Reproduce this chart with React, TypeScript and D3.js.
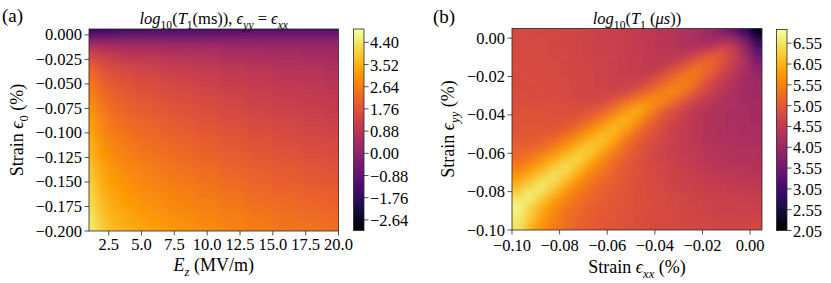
import * as d3 from "d3";

// ---- panel (a): log10(T1 in ms) over Ez and strain (eps_yy = eps_xx)
const ezA = [1, 2, 3, 4, 5, 6, 7, 8, 10, 12, 14, 16, 18, 20];
const strainA = [0.005, 0.0, -0.005, -0.01, -0.02, -0.03, -0.04, -0.05, -0.06, -0.07, -0.08, -0.09, -0.1,
  -0.11, -0.12, -0.13, -0.14, -0.15, -0.16, -0.17, -0.18, -0.19, -0.2];
const t1A = [
  [-1.9, -1.73, -1.65, -1.6, -1.56, -1.53, -1.51, -1.49, -1.45, -1.41, -1.37, -1.34, -1.32, -1.3],
  [-1.3, -1.1, -1.01, -0.95, -0.91, -0.87, -0.85, -0.82, -0.78, -0.73, -0.68, -0.65, -0.62, -0.6],
  [-0.2, -0.17, -0.16, -0.15, -0.14, -0.14, -0.14, -0.13, -0.13, -0.12, -0.11, -0.11, -0.1, -0.1],
  [0.6, 0.49, 0.43, 0.4, 0.38, 0.36, 0.34, 0.32, 0.3, 0.27, 0.25, 0.23, 0.21, 0.2],
  [1.4, 1.13, 1.0, 0.93, 0.87, 0.82, 0.78, 0.74, 0.69, 0.62, 0.56, 0.52, 0.48, 0.45],
  [2.0, 1.61, 1.42, 1.31, 1.23, 1.16, 1.1, 1.05, 0.97, 0.87, 0.79, 0.72, 0.66, 0.62],
  [2.35, 1.91, 1.69, 1.57, 1.47, 1.39, 1.33, 1.27, 1.17, 1.06, 0.97, 0.89, 0.83, 0.78],
  [2.6, 2.12, 1.89, 1.75, 1.65, 1.56, 1.5, 1.43, 1.33, 1.21, 1.1, 1.02, 0.95, 0.9],
  [2.8, 2.3, 2.04, 1.9, 1.79, 1.7, 1.63, 1.56, 1.45, 1.32, 1.22, 1.13, 1.05, 1.0],
  [3.0, 2.47, 2.2, 2.05, 1.94, 1.84, 1.77, 1.69, 1.58, 1.44, 1.33, 1.23, 1.16, 1.1],
  [3.15, 2.6, 2.33, 2.18, 2.06, 1.96, 1.88, 1.8, 1.69, 1.55, 1.43, 1.34, 1.26, 1.2],
  [3.3, 2.74, 2.46, 2.3, 2.18, 2.08, 2.0, 1.92, 1.8, 1.66, 1.54, 1.44, 1.36, 1.3],
  [3.42, 2.85, 2.57, 2.41, 2.29, 2.19, 2.11, 2.03, 1.91, 1.76, 1.64, 1.54, 1.46, 1.4],
  [3.55, 2.98, 2.69, 2.53, 2.4, 2.3, 2.22, 2.14, 2.01, 1.87, 1.75, 1.64, 1.56, 1.5],
  [3.68, 3.1, 2.81, 2.64, 2.52, 2.41, 2.33, 2.24, 2.12, 1.97, 1.85, 1.75, 1.66, 1.6],
  [3.8, 3.21, 2.92, 2.75, 2.62, 2.52, 2.44, 2.35, 2.23, 2.08, 1.95, 1.85, 1.76, 1.7],
  [3.92, 3.33, 3.03, 2.86, 2.73, 2.63, 2.54, 2.46, 2.33, 2.18, 2.05, 1.95, 1.86, 1.8],
  [4.03, 3.43, 3.14, 2.97, 2.84, 2.73, 2.65, 2.56, 2.43, 2.28, 2.16, 2.05, 1.96, 1.9],
  [4.14, 3.54, 3.24, 3.07, 2.94, 2.83, 2.75, 2.66, 2.54, 2.39, 2.26, 2.15, 2.06, 2.0],
  [4.25, 3.65, 3.35, 3.18, 3.05, 2.94, 2.85, 2.77, 2.64, 2.49, 2.36, 2.25, 2.16, 2.1],
  [4.36, 3.76, 3.45, 3.28, 3.15, 3.04, 2.96, 2.87, 2.74, 2.59, 2.46, 2.35, 2.26, 2.2],
  [4.47, 3.86, 3.55, 3.38, 3.24, 3.13, 3.05, 2.96, 2.83, 2.67, 2.54, 2.43, 2.35, 2.28],
  [4.58, 3.96, 3.65, 3.48, 3.34, 3.23, 3.14, 3.06, 2.92, 2.77, 2.64, 2.52, 2.44, 2.37],
];
const xTicksA = [2.5, 5, 7.5, 10, 12.5, 15, 17.5, 20];
const yTicksA = [0, -0.025, -0.05, -0.075, -0.1, -0.125, -0.15, -0.175, -0.2];
const cbTicksA = [4.4, 3.52, 2.64, 1.76, 0.88, 0, -0.88, -1.76, -2.64];

// ---- panel (b): log10(T1 in us) over eps_xx and eps_yy
const exxB = [-0.0975, -0.0925, -0.0875, -0.0825, -0.0775, -0.0725, -0.0675, -0.0625, -0.0575, -0.0525, -0.0475,
  -0.0425, -0.0375, -0.0325, -0.0275, -0.0225, -0.0175, -0.0125, -0.0075, -0.0025, 0.0025];
const eyyB = [0.0025, -0.0025, -0.0075, -0.0125, -0.0175, -0.0225, -0.0275, -0.0325, -0.0375, -0.0425, -0.0475,
  -0.0525, -0.0575, -0.0625, -0.0675, -0.0725, -0.0775, -0.0825, -0.0875, -0.0925, -0.0975];
const t1B = [
  [4.82, 4.81, 4.8, 4.78, 4.76, 4.73, 4.7, 4.67, 4.63, 4.59, 4.55, 4.5, 4.45, 4.4, 4.33, 4.25, 4.1, 3.85, 3.5, 2.9, 2.2],
  [4.83, 4.82, 4.81, 4.79, 4.77, 4.74, 4.71, 4.68, 4.64, 4.6, 4.56, 4.51, 4.46, 4.41, 4.34, 4.27, 4.2, 4.3, 4.45, 3.8, 2.9],
  [4.84, 4.83, 4.82, 4.8, 4.78, 4.75, 4.72, 4.69, 4.65, 4.61, 4.57, 4.52, 4.47, 4.42, 4.38, 4.55, 4.8, 5.0, 4.7, 4.2, 3.35],
  [4.85, 4.84, 4.83, 4.81, 4.79, 4.76, 4.73, 4.7, 4.66, 4.62, 4.58, 4.53, 4.48, 4.58, 4.85, 5.1, 5.3, 5.03, 4.65, 4.3, 3.75],
  [4.86, 4.85, 4.84, 4.82, 4.8, 4.77, 4.74, 4.71, 4.67, 4.63, 4.59, 4.55, 4.73, 5.0, 5.25, 5.45, 5.18, 4.82, 4.5, 4.25, 3.98],
  [4.87, 4.86, 4.85, 4.83, 4.81, 4.78, 4.75, 4.72, 4.68, 4.64, 4.65, 4.85, 5.1, 5.35, 5.57, 5.3, 4.93, 4.6, 4.37, 4.18, 4.08],
  [4.88, 4.87, 4.86, 4.84, 4.82, 4.79, 4.76, 4.73, 4.7, 4.75, 4.95, 5.2, 5.45, 5.67, 5.4, 5.03, 4.72, 4.48, 4.3, 4.17, 4.12],
  [4.89, 4.88, 4.87, 4.85, 4.83, 4.8, 4.78, 4.8, 4.97, 5.2, 5.45, 5.7, 5.65, 5.35, 4.97, 4.7, 4.5, 4.35, 4.25, 4.2, 4.17],
  [4.95, 4.95, 4.94, 4.93, 4.92, 4.92, 4.95, 5.1, 5.35, 5.7, 6.0, 5.65, 5.2, 4.9, 4.68, 4.5, 4.38, 4.3, 4.25, 4.21, 4.18],
  [4.97, 4.97, 4.96, 4.95, 4.95, 5.02, 5.22, 5.48, 5.8, 6.08, 5.75, 5.3, 5.0, 4.77, 4.6, 4.45, 4.35, 4.28, 4.24, 4.22, 4.2],
  [5.0, 5.0, 5.0, 5.0, 5.12, 5.32, 5.58, 5.88, 6.15, 5.85, 5.4, 5.08, 4.85, 4.68, 4.55, 4.45, 4.37, 4.3, 4.26, 4.24, 4.22],
  [5.05, 5.06, 5.1, 5.23, 5.43, 5.7, 5.98, 6.25, 5.93, 5.5, 5.17, 4.94, 4.77, 4.64, 4.53, 4.45, 4.38, 4.32, 4.28, 4.26, 4.25],
  [5.15, 5.2, 5.33, 5.53, 5.8, 6.07, 6.33, 6.02, 5.6, 5.27, 5.03, 4.86, 4.73, 4.62, 4.55, 4.48, 4.42, 4.36, 4.32, 4.3, 4.28],
  [5.3, 5.42, 5.62, 5.9, 6.17, 6.42, 6.1, 5.7, 5.37, 5.13, 4.96, 4.83, 4.72, 4.64, 4.58, 4.52, 4.46, 4.41, 4.37, 4.34, 4.32],
  [5.5, 5.72, 6.0, 6.27, 6.5, 6.18, 5.78, 5.47, 5.23, 5.06, 4.94, 4.85, 4.77, 4.7, 4.63, 4.57, 4.51, 4.46, 4.42, 4.39, 4.38],
  [5.8, 6.07, 6.33, 6.57, 6.25, 5.85, 5.53, 5.3, 5.13, 5.01, 4.92, 4.84, 4.78, 4.72, 4.66, 4.61, 4.56, 4.52, 4.48, 4.46, 4.45],
  [6.12, 6.4, 6.62, 6.3, 5.9, 5.58, 5.36, 5.2, 5.09, 5.0, 4.93, 4.87, 4.81, 4.76, 4.71, 4.66, 4.62, 4.58, 4.55, 4.53, 4.52],
  [6.45, 6.67, 6.35, 5.95, 5.63, 5.4, 5.25, 5.13, 5.05, 4.98, 4.93, 4.88, 4.83, 4.78, 4.74, 4.7, 4.67, 4.64, 4.62, 4.6, 4.6],
  [6.72, 6.4, 6.0, 5.68, 5.45, 5.28, 5.16, 5.08, 5.02, 4.97, 4.92, 4.88, 4.84, 4.8, 4.76, 4.73, 4.7, 4.68, 4.66, 4.65, 4.65],
  [6.65, 6.3, 5.88, 5.58, 5.37, 5.22, 5.12, 5.05, 5.0, 4.95, 4.91, 4.87, 4.84, 4.81, 4.78, 4.75, 4.73, 4.71, 4.7, 4.69, 4.7],
  [6.55, 6.1, 5.72, 5.48, 5.31, 5.19, 5.1, 5.03, 4.98, 4.94, 4.9, 4.87, 4.84, 4.82, 4.8, 4.78, 4.77, 4.76, 4.76, 4.76, 4.77],
];
const xTicksB = [-0.1, -0.08, -0.06, -0.04, -0.02, 0];
const yTicksB = [0, -0.02, -0.04, -0.06, -0.08, -0.1];
const cbTicksB = [6.55, 6.05, 5.55, 5.05, 4.55, 4.05, 3.55, 3.05, 2.55, 2.05];

const FONT = "'Liberation Serif', 'DejaVu Serif', serif";
const TICK = 16.5;
const LABEL = 18;
const TITLE = 16.5;
const minus = (s: string) => s.replace("-", "\u2212");

type Seg = { t: string; it?: boolean; sub?: boolean };

function Rich({ segs, x, y, size, anchor = "middle", transform }: {
  segs: Seg[]; x: number; y: number; size: number; anchor?: string; transform?: string;
}) {
  let down = false;
  const shift = size * 0.3;
  return (
    <text x={x} y={y} fontSize={size} textAnchor={anchor} fontFamily={FONT} fill="#000" transform={transform}>
      {segs.map((s, i) => {
        let dy = 0;
        if (s.sub && !down) { dy = shift; down = true; }
        else if (!s.sub && down) { dy = -shift; down = false; }
        return (
          <tspan key={i} dy={dy} fontStyle={s.it ? "italic" : "normal"} fontSize={s.sub ? size * 0.7 : size}>
            {s.t}
          </tspan>
        );
      })}
    </text>
  );
}

type Box = { x0: number; x1: number; y0: number; y1: number };

// pixel extents of each cell: half way to its neighbours, outer cells run past the frame
function bounds(pos: number[], lo: number, hi: number, pad: number) {
  return pos.map((p, i) => {
    const a = i === 0 ? lo - pad : (pos[i - 1] + p) / 2;
    const b = i === pos.length - 1 ? hi + pad : (p + pos[i + 1]) / 2;
    return [a, b];
  });
}

function Panel(props: {
  id: string; box: Box; xDom: [number, number]; yDom: [number, number];
  xs: number[]; ys: number[]; z: number[][]; cDom: [number, number];
  xTicks: number[]; yTicks: number[]; xFmt: (v: number) => string; yFmt: (v: number) => string;
  blur: string; cb: Box; cbTicks: number[]; cbFmt: (v: number) => string; xLabDy: number;
}) {
  const { id, box, xDom, yDom, xs, ys, z, cDom, xTicks, yTicks, xFmt, yFmt, blur, cb, cbTicks, cbFmt, xLabDy } = props;
  const x = d3.scaleLinear().domain(xDom).range([box.x0, box.x1]);
  const y = d3.scaleLinear().domain(yDom).range([box.y1, box.y0]);
  const color = d3.scaleSequential(d3.interpolateInferno).domain(cDom);
  const cy = d3.scaleLinear().domain(cDom).range([cb.y1, cb.y0]);
  const xb = bounds(xs.map(x), box.x0, box.x1, 25);
  const yb = bounds(ys.map(y), box.y0, box.y1, 25);
  const stops = d3.range(0, 1.0001, 0.025);
  return (
    <g>
      <defs>
        <clipPath id={`clip-${id}`}>
          <rect x={box.x0} y={box.y0} width={box.x1 - box.x0} height={box.y1 - box.y0} />
        </clipPath>
        <filter id={`blur-${id}`} filterUnits="userSpaceOnUse" x={box.x0 - 40} y={box.y0 - 40}
          width={box.x1 - box.x0 + 80} height={box.y1 - box.y0 + 80}>
          <feGaussianBlur stdDeviation={blur} />
        </filter>
        <linearGradient id={`grad-${id}`} x1="0" y1="1" x2="0" y2="0">
          {stops.map((t) => (
            <stop key={t} offset={t} stopColor={d3.interpolateInferno(t)} />
          ))}
        </linearGradient>
      </defs>
      <g clipPath={`url(#clip-${id})`}>
        <g filter={`url(#blur-${id})`}>
          {z.map((row, j) =>
            row.map((v, i) => (
              <rect key={`${i}-${j}`} x={xb[i][0]} y={yb[j][0]} width={xb[i][1] - xb[i][0] + 0.6}
                height={yb[j][1] - yb[j][0] + 0.6} fill={color(v)} />
            ))
          )}
        </g>
      </g>
      <rect x={box.x0} y={box.y0} width={box.x1 - box.x0} height={box.y1 - box.y0}
        fill="none" stroke="#262626" strokeWidth={0.8} />
      {xTicks.map((t) => (
        <g key={`x${t}`}>
          <line x1={x(t)} x2={x(t)} y1={box.y1} y2={box.y1 + 4.5} stroke="#262626" strokeWidth={0.8} />
          <text x={x(t)} y={box.y1 + xLabDy} fontSize={TICK} fontFamily={FONT} textAnchor="middle">{minus(xFmt(t))}</text>
        </g>
      ))}
      {yTicks.map((t) => (
        <g key={`y${t}`}>
          <line x1={box.x0 - 4.5} x2={box.x0} y1={y(t)} y2={y(t)} stroke="#262626" strokeWidth={0.8} />
          <text x={box.x0 - 7} y={y(t) + 5.5} fontSize={TICK} fontFamily={FONT} textAnchor="end">{minus(yFmt(t))}</text>
        </g>
      ))}
      <rect x={cb.x0} y={cb.y0} width={cb.x1 - cb.x0} height={cb.y1 - cb.y0} fill={`url(#grad-${id})`}
        stroke="#262626" strokeWidth={0.8} />
      {cbTicks.map((t) => (
        <g key={`c${t}`}>
          <line x1={cb.x1} x2={cb.x1 + 4.5} y1={cy(t)} y2={cy(t)} stroke="#262626" strokeWidth={0.8} />
          <text x={cb.x1 + 6} y={cy(t) + 6} fontSize={TICK} fontFamily={FONT} textAnchor="start">{minus(cbFmt(t))}</text>
        </g>
      ))}
    </g>
  );
}

export default function App() {
  const boxA = { x0: 89, x1: 338.5, y0: 29, y1: 231 };
  const boxB = { x0: 512, x1: 762, y0: 28.5, y1: 230 };
  return (
    <svg width={831} height={283} style={{ position: "absolute", left: 0, top: 0, background: "#fff" }}>
      <rect width={831} height={283} fill="#fff" />
      <Panel id="a" box={boxA} xDom={[1, 20]} yDom={[-0.2, 0.006]} xs={ezA} ys={strainA} z={t1A}
        cDom={[-3.06, 4.93]} xTicks={xTicksA} yTicks={yTicksA} xFmt={d3.format(".1f")} yFmt={d3.format(".3f")}
        blur="5 4" cb={{ x0: 353.5, x1: 364, y0: 29, y1: 230.5 }} cbTicks={cbTicksA} cbFmt={d3.format(".2f")}
        xLabDy={18.5} />
      <Panel id="b" box={boxB} xDom={[-0.1, 0.005]} yDom={[-0.1, 0.005]} xs={exxB} ys={eyyB} z={t1B}
        cDom={[2.05, 6.88]} xTicks={xTicksB} yTicks={yTicksB} xFmt={d3.format(".2f")} yFmt={d3.format(".2f")}
        blur="4.5 4" cb={{ x0: 776.5, x1: 787, y0: 29.5, y1: 230.5 }} cbTicks={cbTicksB} cbFmt={d3.format(".2f")}
        xLabDy={21} />

      <text x={2} y={22} fontSize={19} fontFamily={FONT}>(a)</text>
      <text x={433} y={23} fontSize={19} fontFamily={FONT}>(b)</text>

      <Rich x={213.75} y={24} size={TITLE} segs={[
        { t: "log", it: true }, { t: "10", sub: true }, { t: "(" }, { t: "T", it: true }, { t: "1", sub: true },
        { t: "(ms)), " }, { t: "ϵ", it: true }, { t: "yy", it: true, sub: true }, { t: " = " },
        { t: "ϵ", it: true }, { t: "xx", it: true, sub: true },
      ]} />
      <Rich x={637} y={24} size={TITLE} segs={[
        { t: "log", it: true }, { t: "10", sub: true }, { t: "(" }, { t: "T", it: true }, { t: "1", sub: true },
        { t: " (" }, { t: "μs", it: true }, { t: "))" },
      ]} />

      <Rich x={213.75} y={271} size={LABEL} segs={[
        { t: "E", it: true }, { t: "z", it: true, sub: true }, { t: " (MV/m)" },
      ]} />
      <Rich x={637} y={273} size={LABEL} segs={[
        { t: "Strain " }, { t: "ϵ", it: true }, { t: "xx", it: true, sub: true }, { t: " (%)" },
      ]} />

      <Rich x={0} y={0} size={LABEL} transform="translate(23,130) rotate(-90)" segs={[
        { t: "Strain " }, { t: "ϵ", it: true }, { t: "0", sub: true }, { t: " (%)" },
      ]} />
      <Rich x={0} y={0} size={LABEL} transform="translate(454,129) rotate(-90)" segs={[
        { t: "Strain " }, { t: "ϵ", it: true }, { t: "yy", it: true, sub: true }, { t: " (%)" },
      ]} />
    </svg>
  );
}
